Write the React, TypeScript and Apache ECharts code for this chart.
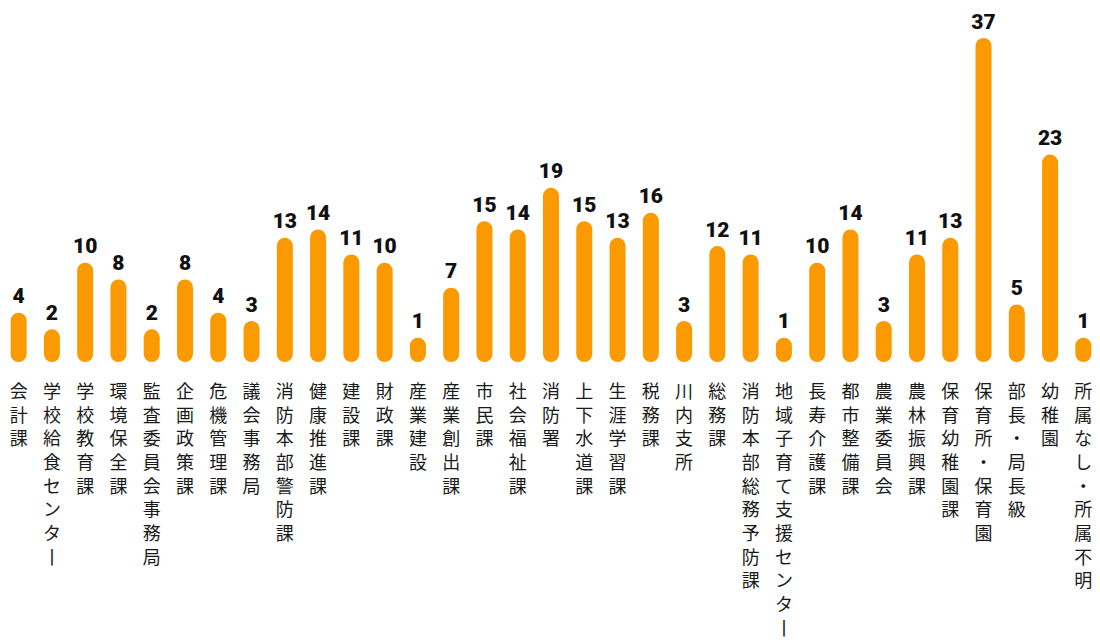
import React, { useEffect, useRef } from "react";
import * as echarts from "echarts";

const categories: string[] = [
  "会計課", "学校給食センター", "学校教育課", "環境保全課", "監査委員会事務局",
  "企画政策課", "危機管理課", "議会事務局", "消防本部警防課", "健康推進課",
  "建設課", "財政課", "産業建設", "産業創出課", "市民課", "社会福祉課",
  "消防署", "上下水道課", "生涯学習課", "税務課", "川内支所", "総務課",
  "消防本部総務予防課", "地域子育て支援センター", "長寿介護課", "都市整備課",
  "農業委員会", "農林振興課", "保育幼稚園課", "保育所・保育園", "部長・局長級",
  "幼稚園", "所属なし・所属不明",
];

const counts: number[] = [
  4, 2, 10, 8, 2, 8, 4, 3, 13, 14, 11, 10, 1, 7, 15, 14, 19, 15, 13, 16, 3,
  12, 11, 1, 10, 14, 3, 11, 13, 37, 5, 23, 1,
];

const BAR_COLOR = "#FA9A00";

export default function App() {
  const ref = useRef<HTMLDivElement>(null);
  useEffect(() => {
    if (!ref.current) return;
    const chart = echarts.init(ref.current, undefined, { renderer: "svg" });
    const half = 8;
    chart.setOption({
      animation: false,
      grid: { left: 2, right: 0, top: 46, bottom: 290, containLabel: false },
      xAxis: {
        type: "category",
        data: categories,
        axisLine: { show: false },
        axisTick: { show: false },
        axisLabel: {
          interval: 0,
          margin: 24,
          verticalAlign: "top",
          fontFamily: "Noto Sans CJK JP",
          fontSize: 18,
          lineHeight: 23.7,
          color: "#1a1a1a",
          formatter: (v: string) => v.replace(/ー/g, "丨").split("").join("\n"),
        },
      },
      yAxis: {
        type: "value",
        min: 0,
        max: 37,
        show: false,
        splitLine: { show: false },
      },
      series: [
        {
          type: "custom",
          data: counts.map((v, i) => [i, v]),
          encode: { x: 0, y: 1 },
          renderItem: (params: any, api: any) => {
            const idx = api.value(0);
            const val = api.value(1);
            const top = api.coord([idx, val]);
            const base = api.coord([idx, 0]);
            const y0 = top[1] - half;
            const y1 = base[1] + half;
            return {
              type: "group",
              children: [
                {
                  type: "rect",
                  shape: { x: top[0] - half, y: y0, width: half * 2, height: y1 - y0, r: half },
                  style: { fill: BAR_COLOR },
                },
                {
                  type: "text",
                  style: {
                    text: String(val),
                    x: top[0],
                    y: y0 - 6,
                    align: "center",
                    verticalAlign: "bottom",
                    fontFamily: "Roboto",
                    fontWeight: 900,
                    fontSize: 21,
                    fill: "#111",
                  },
                },
              ],
            };
          },
        },
      ],
    });
    return () => chart.dispose();
  }, []);
  return (
    <div
      ref={ref}
      style={{ position: "absolute", left: 0, top: 0, width: 1100, height: 644, background: "#fff" }}
    />
  );
}
